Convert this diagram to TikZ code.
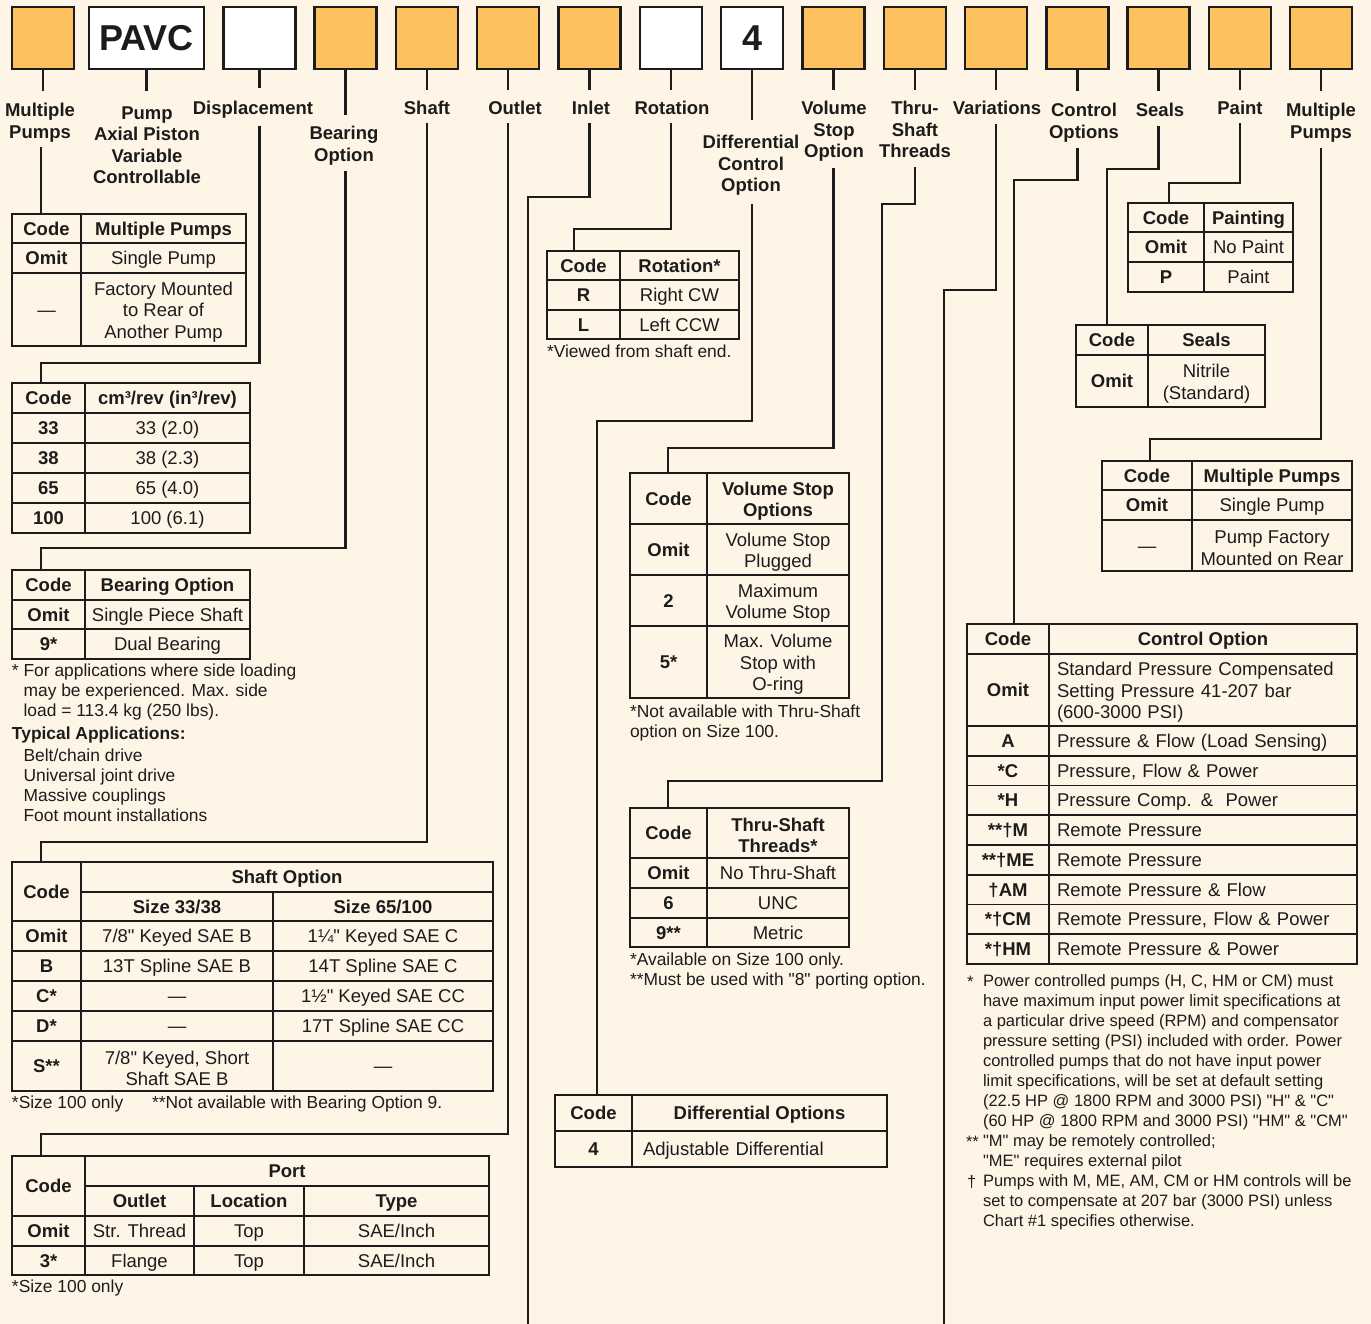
\documentclass[tikz,border=0pt]{standalone}
\usepackage{fontspec}
\setmainfont{Liberation Sans}[Ligatures=TeXOff]
\usetikzlibrary{positioning}
\definecolor{Cream}{HTML}{FFF5E6}
\definecolor{Amber}{HTML}{FDC25E}
\definecolor{Ink}  {HTML}{1C1C1C}
\newcommand\txtbody{\fontsize{18.5}{21.5}\selectfont}
\newcommand\txtnote{\fontsize{17.4}{20}\selectfont}
\newcommand\txtsmall{\fontsize{16.5}{20}\selectfont}
\newcommand\txtbig{\fontsize{36}{40}\selectfont\bfseries}
\newcommand\lift{\rule{0pt}{18.5pt}}
\tikzset{
  slot/.style={draw=Ink, line width=2.4pt, fill=Amber, minimum width=62pt,
               minimum height=62pt, inner sep=0pt, outer sep=0pt, text=Ink},
  blank/.style={slot, fill=white},
  tag/.style={anchor=north, inner sep=0pt, outer sep=0pt, align=center, font=\txtbody\bfseries, text=Ink},
  wire/.style={draw=Ink, line width=2.4pt},
  cell/.style 2 args={draw=Ink, line width=1.8pt, minimum width=#1, minimum height=#2,
               inner sep=0pt, outer sep=0pt, anchor=north west, align=center, font=\txtbody,
               text=Ink, text height=13.2pt, text depth=0pt},
  multi/.style={text height=, text depth=},
  key/.style={font=\txtbody\bfseries},
  lcell/.style 2 args={inner xsep=#1, text width=#2, align=left},
  frame/.style={draw=Ink, line width=2.6pt},
  note/.style={anchor=north west, inner sep=0pt, outer sep=0pt, align=left, font=\txtnote, text=Ink},
}

\begin{document}
\begin{tikzpicture}[x=1pt, y=-1pt]
  \fill[Cream] (0,0) rectangle (1371,1324);
  \useasboundingbox (0,0) rectangle (1371,1324);

  % ── Code slots ──
  \node[slot] (b1) at (43,38) {};
  \node[blank, minimum width=115pt, font=\txtbig, right=15pt of b1] (b2) {PAVC};
  \node[blank, minimum width=72pt, right=19.3pt of b2] (b3) {};
  \node[slot, right=19.3pt of b3] (b4) {};
  \node[slot, right=19.3pt of b4] (b5) {};
  \node[slot, right=19.3pt of b5] (b6) {};
  \node[slot, right=19.3pt of b6] (b7) {};
  \node[blank, right=19.3pt of b7] (b8) {};
  \node[blank, font=\txtbig, right=19.3pt of b8] (b9) {4};
  \node[slot, right=19.3pt of b9] (b10) {};
  \node[slot, right=19.3pt of b10] (b11) {};
  \node[slot, right=19.3pt of b11] (b12) {};
  \node[slot, right=19.3pt of b12] (b13) {};
  \node[slot, right=19.3pt of b13] (b14) {};
  \node[slot, right=19.3pt of b14] (b15) {};
  \node[slot, right=19.3pt of b15] (b16) {};

  % ── Slot captions ──
  \node[tag] (lMulA)  at (40,103.5)   {Multiple\\Pumps};
  \node[tag] (lPump)  at (147,106.5)  {Pump\\Axial Piston\\Variable\\Controllable};
  \node[tag] (lDisp)  at (253,101.5)  {Displacement};
  \node[tag] (lBear)  at (344,126.5)  {Bearing\\Option};
  \node[tag] (lShaft) at (427,101.5)  {Shaft};
  \node[tag] (lOut)   at (515,101.5)  {Outlet};
  \node[tag] (lIn)    at (591,101.5)  {Inlet};
  \node[tag] (lRot)   at (672,101.5)  {Rotation};
  \node[tag] (lDiff)  at (751,135.5)  {Differential\\Control\\Option};
  \node[tag] (lVol)   at (834,101.5)  {Volume\\Stop\\Option};
  \node[tag] (lThru)  at (915,101.5)  {Thru-\\Shaft\\Threads};
  \node[tag] (lVar)   at (997,101.5)  {Variations};
  \node[tag] (lCtl)   at (1084,103.5) {Control\\Options};
  \node[tag] (lSeal)  at (1160,103.5) {Seals};
  \node[tag] (lPaint) at (1240,101.5) {Paint};
  \node[tag] (lMulB)  at (1321,103.5) {Multiple\\Pumps};

  % ── Multiple pumps (front) ──
  \node[cell={69}{29}, key] (mpA) at (12,214) {Code};
  \node[cell={165}{29}, key] (mpB) at (mpA.north east) {Multiple Pumps};
  \node[cell={69}{30}, key] (mpC) at (mpA.south west) {Omit};
  \node[cell={165}{30}] (mpD) at (mpC.north east) {Single Pump};
  \node[cell={69}{73}] (mpE) at (mpC.south west) {—};
  \node[cell={165}{73}, multi] (mpF) at (mpE.north east) {\lift Factory Mounted\\to Rear of\\Another Pump};
  \draw[frame] (mpA.north west) rectangle (mpF.south east);

  % ── Displacement ──
  \node[cell={73}{30}, key] (dsA) at (12,383) {Code};
  \node[cell={165}{30}, key] (dsB) at (dsA.north east) {cm³/rev (in³/rev)};
  \node[cell={73}{30}, key] (dsC) at (dsA.south west) {33};
  \node[cell={165}{30}] (dsD) at (dsC.north east) {33 (2.0)};
  \node[cell={73}{30}, key] (dsE) at (dsC.south west) {38};
  \node[cell={165}{30}] (dsF) at (dsE.north east) {38 (2.3)};
  \node[cell={73}{30}, key] (dsG) at (dsE.south west) {65};
  \node[cell={165}{30}] (dsH) at (dsG.north east) {65 (4.0)};
  \node[cell={73}{30}, key] (dsI) at (dsG.south west) {100};
  \node[cell={165}{30}] (dsJ) at (dsI.north east) {100 (6.1)};
  \draw[frame] (dsA.north west) rectangle (dsJ.south east);

  % ── Bearing option ──
  \node[cell={73}{30}, key] (brA) at (12,570) {Code};
  \node[cell={165}{30}, key] (brB) at (brA.north east) {Bearing Option};
  \node[cell={73}{29}, key] (brC) at (brA.south west) {Omit};
  \node[cell={165}{29}] (brD) at (brC.north east) {Single Piece Shaft};
  \node[cell={73}{30}, key] (brE) at (brC.south west) {9*};
  \node[cell={165}{30}] (brF) at (brE.north east) {Dual Bearing};
  \draw[frame] (brA.north west) rectangle (brF.south east);
  \node[note] (bnA) at (12,664.3) {* For applications where side loading\\\phantom{* }may be experienced. Max. side\\\phantom{* }load = 113.4 kg (250 lbs).};
  \node[note] (bnB) at (12,727.3) {\textbf{Typical Applications:}\\[2pt]\phantom{* }Belt/chain drive\\\phantom{* }Universal joint drive\\\phantom{* }Massive couplings\\\phantom{* }Foot mount installations};

  % ── Shaft option ──
  \node[cell={69}{59}, key] (shA) at (12,862) {Code};
  \node[cell={412}{30}, key] (shB) at (shA.north east) {Shaft Option};
  \node[cell={192}{29}, key] (shC) at (shB.south west) {Size 33/38};
  \node[cell={220}{29}, key] (shD) at (shC.north east) {Size 65/100};
  \node[cell={69}{30}, key] (shE) at (shA.south west) {Omit};
  \node[cell={192}{30}] (shF) at (shE.north east) {7/8" Keyed SAE B};
  \node[cell={220}{30}] (shG) at (shF.north east) {1¼" Keyed SAE C};
  \node[cell={69}{30}, key] (shH) at (shE.south west) {B};
  \node[cell={192}{30}] (shI) at (shH.north east) {13T Spline SAE B};
  \node[cell={220}{30}] (shJ) at (shI.north east) {14T Spline SAE C};
  \node[cell={69}{30}, key] (shK) at (shH.south west) {C*};
  \node[cell={192}{30}] (shL) at (shK.north east) {—};
  \node[cell={220}{30}] (shM) at (shL.north east) {1½" Keyed SAE CC};
  \node[cell={69}{30}, key] (shN) at (shK.south west) {D*};
  \node[cell={192}{30}] (shO) at (shN.north east) {—};
  \node[cell={220}{30}] (shP) at (shO.north east) {17T Spline SAE CC};
  \node[cell={69}{50}, key] (shQ) at (shN.south west) {S**};
  \node[cell={192}{50}, multi] (shR) at (shQ.north east) {\lift 7/8" Keyed, Short\\Shaft SAE B};
  \node[cell={220}{50}] (shS) at (shR.north east) {—};
  \draw[frame] (shA.north west) rectangle (shS.south east);
  \node[note] (snA) at (12,1096.3) {*Size 100 only};
  \node[note] (snB) at (152,1096.3) {**Not available with Bearing Option 9.};

  % ── Port ──
  \node[cell={73}{60}, key] (poA) at (12,1156) {Code};
  \node[cell={404}{30}, key] (poB) at (poA.north east) {Port};
  \node[cell={109}{30}, key] (poC) at (poB.south west) {Outlet};
  \node[cell={110}{30}, key] (poD) at (poC.north east) {Location};
  \node[cell={185}{30}, key] (poE) at (poD.north east) {Type};
  \node[cell={73}{30}, key] (poF) at (poA.south west) {Omit};
  \node[cell={109}{30}] (poG) at (poF.north east) {Str. Thread};
  \node[cell={110}{30}] (poH) at (poG.north east) {Top};
  \node[cell={185}{30}] (poI) at (poH.north east) {SAE/Inch};
  \node[cell={73}{29}, key] (poJ) at (poF.south west) {3*};
  \node[cell={109}{29}] (poK) at (poJ.north east) {Flange};
  \node[cell={110}{29}] (poL) at (poK.north east) {Top};
  \node[cell={185}{29}] (poM) at (poL.north east) {SAE/Inch};
  \draw[frame] (poA.north west) rectangle (poM.south east);
  \node[note] (pnote) at (12,1280.3) {*Size 100 only};

  % ── Rotation ──
  \node[cell={73}{29}, key] (rtA) at (547,251) {Code};
  \node[cell={119}{29}, key] (rtB) at (rtA.north east) {Rotation*};
  \node[cell={73}{30}, key] (rtC) at (rtA.south west) {R};
  \node[cell={119}{30}] (rtD) at (rtC.north east) {Right CW};
  \node[cell={73}{29}, key] (rtE) at (rtC.south west) {L};
  \node[cell={119}{29}] (rtF) at (rtE.north east) {Left CCW};
  \draw[frame] (rtA.north west) rectangle (rtF.south east);
  \node[note] (rnote) at (547,345.3) {*Viewed from shaft end.};

  % ── Volume stop ──
  \node[cell={77}{51}, key] (vsA) at (630,473) {Code};
  \node[cell={142}{51}, key, multi] (vsB) at (vsA.north east) {\lift Volume Stop\\Options};
  \node[cell={77}{51}, key] (vsC) at (vsA.south west) {Omit};
  \node[cell={142}{51}, multi] (vsD) at (vsC.north east) {\lift Volume Stop\\Plugged};
  \node[cell={77}{51}, key] (vsE) at (vsC.south west) {2};
  \node[cell={142}{51}, multi] (vsF) at (vsE.north east) {\lift Maximum\\Volume Stop};
  \node[cell={77}{72}, key] (vsG) at (vsE.south west) {5*};
  \node[cell={142}{72}, multi] (vsH) at (vsG.north east) {\lift Max. Volume\\Stop with\\O-ring};
  \draw[frame] (vsA.north west) rectangle (vsH.south east);
  \node[note] (vnote) at (630,705.3) {*Not available with Thru-Shaft\\option on Size 100.};

  % ── Thru-shaft threads ──
  \node[cell={77}{50}, key] (thA) at (630,808) {Code};
  \node[cell={142}{50}, key, multi] (thB) at (thA.north east) {\lift Thru-Shaft\\Threads*};
  \node[cell={77}{30}, key] (thC) at (thA.south west) {Omit};
  \node[cell={142}{30}] (thD) at (thC.north east) {No Thru-Shaft};
  \node[cell={77}{30}, key] (thE) at (thC.south west) {6};
  \node[cell={142}{30}] (thF) at (thE.north east) {UNC};
  \node[cell={77}{29}, key] (thG) at (thE.south west) {9**};
  \node[cell={142}{29}] (thH) at (thG.north east) {Metric};
  \draw[frame] (thA.north west) rectangle (thH.south east);
  \node[note] (tnote) at (630,953.3) {*Available on Size 100 only.\\**Must be used with "8" porting option.};

  % ── Differential ──
  \node[cell={77}{36}, key] (dfA) at (555,1095) {Code};
  \node[cell={255}{36}, key] (dfB) at (dfA.north east) {Differential Options};
  \node[cell={77}{36}, key] (dfC) at (dfA.south west) {4};
  \node[cell={255}{36}, lcell={11pt}{233pt}] (dfD) at (dfC.north east) {Adjustable Differential};
  \draw[frame] (dfA.north west) rectangle (dfD.south east);

  % ── Paint ──
  \node[cell={76}{29}, key] (pnA) at (1128,203) {Code};
  \node[cell={89}{29}, key] (pnB) at (pnA.north east) {Painting};
  \node[cell={76}{30}, key] (pnC) at (pnA.south west) {Omit};
  \node[cell={89}{30}] (pnD) at (pnC.north east) {No Paint};
  \node[cell={76}{30}, key] (pnE) at (pnC.south west) {P};
  \node[cell={89}{30}] (pnF) at (pnE.north east) {Paint};
  \draw[frame] (pnA.north west) rectangle (pnF.south east);

  % ── Seals ──
  \node[cell={72}{30}, key] (slA) at (1076,325) {Code};
  \node[cell={117}{30}, key] (slB) at (slA.north east) {Seals};
  \node[cell={72}{52}, key] (slC) at (slA.south west) {Omit};
  \node[cell={117}{52}, multi] (slD) at (slC.north east) {\lift Nitrile\\(Standard)};
  \draw[frame] (slA.north west) rectangle (slD.south east);

  % ── Multiple pumps (rear) ──
  \node[cell={90}{29}, key] (mrA) at (1102,461) {Code};
  \node[cell={160}{29}, key] (mrB) at (mrA.north east) {Multiple Pumps};
  \node[cell={90}{30}, key] (mrC) at (mrA.south west) {Omit};
  \node[cell={160}{30}] (mrD) at (mrC.north east) {Single Pump};
  \node[cell={90}{51}] (mrE) at (mrC.south west) {—};
  \node[cell={160}{51}, multi] (mrF) at (mrE.north east) {\lift Pump Factory\\Mounted on Rear};
  \draw[frame] (mrA.north west) rectangle (mrF.south east);

  % ── Control option ──
  \node[cell={82}{30}, key] (ctA) at (967,624) {Code};
  \node[cell={308}{30}, key] (ctB) at (ctA.north east) {Control Option};
  \node[cell={82}{72}, key] (ctC) at (ctA.south west) {Omit};
  \node[cell={308}{72}, multi, lcell={8pt}{292pt}] (ctD) at (ctC.north east) {\lift Standard Pressure Compensated\\Setting Pressure 41-207 bar\\(600-3000 PSI)};
  \node[cell={82}{29.75}, key] (ctE) at (ctC.south west) {A};
  \node[cell={308}{29.75}, lcell={8pt}{292pt}] (ctF) at (ctE.north east) {Pressure \& Flow (Load Sensing)};
  \node[cell={82}{29.75}, key] (ctG) at (ctE.south west) {*C};
  \node[cell={308}{29.75}, lcell={8pt}{292pt}] (ctH) at (ctG.north east) {Pressure, Flow \& Power};
  \node[cell={82}{29.75}, key] (ctI) at (ctG.south west) {*H};
  \node[cell={308}{29.75}, lcell={8pt}{292pt}] (ctJ) at (ctI.north east) {Pressure Comp. \&\ \ Power};
  \node[cell={82}{29.75}, key] (ctK) at (ctI.south west) {**†M};
  \node[cell={308}{29.75}, lcell={8pt}{292pt}] (ctL) at (ctK.north east) {Remote Pressure};
  \node[cell={82}{29.75}, key] (ctM) at (ctK.south west) {**†ME};
  \node[cell={308}{29.75}, lcell={8pt}{292pt}] (ctN) at (ctM.north east) {Remote Pressure};
  \node[cell={82}{29.75}, key] (ctO) at (ctM.south west) {†AM};
  \node[cell={308}{29.75}, lcell={8pt}{292pt}] (ctP) at (ctO.north east) {Remote Pressure \& Flow};
  \node[cell={82}{29.75}, key] (ctQ) at (ctO.south west) {*†CM};
  \node[cell={308}{29.75}, lcell={8pt}{292pt}] (ctR) at (ctQ.north east) {Remote Pressure, Flow \& Power};
  \node[cell={82}{29.75}, key] (ctS) at (ctQ.south west) {*†HM};
  \node[cell={308}{29.75}, lcell={8pt}{292pt}] (ctT) at (ctS.north east) {Remote Pressure \& Power};
  \draw[frame] (ctA.north west) rectangle (ctT.south east);
  \node[note, font=\txtsmall, anchor=base west] (cmA) at (967,987) {*};
  \node[note, font=\txtsmall, anchor=base west] (cmB) at (966,1147) {**};
  \node[note, font=\txtsmall, anchor=base west] (cmC) at (967,1187) {†};
  \node[note, font=\txtsmall] (cnote) at (983,975) {Power controlled pumps (H, C, HM or CM) must\\
    have maximum input power limit specifications at\\
    a particular drive speed (RPM) and compensator\\
    pressure setting (PSI) included with order. Power\\
    controlled pumps that do not have input power\\
    limit specifications, will be set at default setting\\
    (22.5 HP @ 1800 RPM and 3000 PSI) "H" \& "C"\\
    (60 HP @ 1800 RPM and 3000 PSI) "HM" \& "CM"\\
    "M" may be remotely controlled;\\
    "ME" requires external pilot\\
    Pumps with M, ME, AM, CM or HM controls will be\\
    set to compensate at 207 bar (3000 PSI) unless\\
    Chart \#1 specifies otherwise.};

  % ── Tie points and bends ──
  \coordinate (tMulA)  at ([xshift=29pt]mpA.north west);
  \coordinate (tDisp)  at ([xshift=29pt]dsA.north west);
  \coordinate (tBear)  at ([xshift=29pt]brA.north west);
  \coordinate (tShaft) at ([xshift=29pt]shA.north west);
  \coordinate (tPort)  at ([xshift=29pt]poA.north west);
  \coordinate (tRot)   at ([xshift=27pt]rtA.north west);
  \coordinate (tVol)   at ([xshift=38pt]vsA.north west);
  \coordinate (tThru)  at ([xshift=38pt]thA.north west);
  \coordinate (tDiff)  at ([xshift=42pt]dfA.north west);
  \coordinate (tPaint) at ([xshift=41pt]pnA.north west);
  \coordinate (tSeal)  at ([xshift=31pt]slA.north west);
  \coordinate (tMulB)  at ([xshift=48pt]mrA.north west);
  \coordinate (tCtl)   at ([xshift=47pt]ctA.north west);
  \coordinate (jDisp)  at ([yshift=20pt]tDisp);
  \coordinate (jBear)  at ([yshift=22pt]tBear);
  \coordinate (jShaft) at ([yshift=20pt]tShaft);
  \coordinate (jPort)  at ([yshift=22pt]tPort);
  \coordinate (jRot)   at ([yshift=22pt]tRot);
  \coordinate (jVol)   at ([yshift=25pt]tVol);
  \coordinate (jThru)  at ([yshift=27pt]tThru);
  \coordinate (kThru)  at (882,204);
  \coordinate (jDiff)  at (tDiff |- 0,421);
  \coordinate (jPaint) at ([yshift=20pt]tPaint);
  \coordinate (jSeal)  at (tSeal |- 0,169);
  \coordinate (jCtl)   at (tCtl |- 0,180);
  \coordinate (jMulB)  at ([yshift=22pt]tMulB);
  \coordinate (inEnd)  at (528,1324);
  \coordinate (jIn)    at (528,197);
  \coordinate (varEnd) at (944,1324);
  \coordinate (jVar)   at (944,290);

  % ── Stubs under the slots ──
  \draw[wire, shorten >=12.5pt] (b1.south)  -- (b1.south  |- lMulA.north);
  \draw[wire, shorten >=15.5pt] (b2.south)  -- (b2.south  |- lPump.north);
  \draw[wire, shorten >=13.5pt] (b3.south)  -- (b3.south  |- lDisp.north);
  \draw[wire, shorten >=11.5pt] (b4.south)  -- (b4.south  |- lBear.north);
  \draw[wire, shorten >=11pt]   (b5.south)  -- (b5.south  |- lShaft.north);
  \draw[wire, shorten >=11pt]   (b6.south)  -- (b6.south  |- lOut.north);
  \draw[wire, shorten >=11pt]   (b7.south)  -- (b7.south  |- lIn.north);
  \draw[wire, shorten >=11pt]   (b8.south)  -- (b8.south  |- lRot.north);
  \draw[wire, shorten >=15.5pt] (b9.south)  -- (b9.south  |- lDiff.north);
  \draw[wire, shorten >=11pt]   (b10.south) -- (b10.south |- lVol.north);
  \draw[wire, shorten >=11pt]   (b11.south) -- (b11.south |- lThru.north);
  \draw[wire, shorten >=11pt]   (b12.south) -- (b12.south |- lVar.north);
  \draw[wire, shorten >=12.5pt] (b13.south) -- (b13.south |- lCtl.north);
  \draw[wire, shorten >=12.5pt] (b14.south) -- (b14.south |- lSeal.north);
  \draw[wire, shorten >=11pt]   (b15.south) -- (b15.south |- lPaint.north);
  \draw[wire, shorten >=12.5pt] (b16.south) -- (b16.south |- lMulB.north);

  % ── Leads down to the tables ──
  \draw[wire, shorten <=5pt] (tMulA |- lMulA.south) -- (tMulA);
  \draw[wire, shorten <=7pt] (lDisp.south -| b3) |- (jDisp) -- (tDisp);
  \draw[wire, shorten <=6pt] (lBear.south -| b4) |- (jBear) -- (tBear);
  \draw[wire, shorten <=8pt] (lShaft.south -| b5) |- (jShaft) -- (tShaft);
  \draw[wire, shorten <=8pt] (lOut.south -| b6) |- (jPort) -- (tPort);
  \draw[wire, shorten <=8pt] (lIn.south -| b7) |- (jIn) -- (inEnd);
  \draw[wire, shorten <=8pt] (lRot.south -| b8) |- (jRot) -- (tRot);
  \draw[wire, shorten <=8pt] (lDiff.south -| b9) |- (jDiff) -- (tDiff);
  \draw[wire, shorten <=6pt] (lVol.south -| b10) |- (jVol) -- (tVol);
  \draw[wire, shorten <=9pt] (lThru.south -| b11) |- (kThru) |- (jThru) -- (tThru);
  \draw[wire, shorten <=9pt] (lVar.south -| b12) |- (jVar) -- (varEnd);
  \draw[wire, shorten <=6pt] (lCtl.south -| b13) |- (jCtl) -- (tCtl);
  \draw[wire, shorten <=9pt] (lSeal.south -| b14) |- (jSeal) -- (tSeal);
  \draw[wire, shorten <=8pt] (lPaint.south -| b15) |- (jPaint) -- (tPaint);
  \draw[wire, shorten <=6pt] (lMulB.south -| b16) |- (jMulB) -- (tMulB);
\end{tikzpicture}
\end{document}
